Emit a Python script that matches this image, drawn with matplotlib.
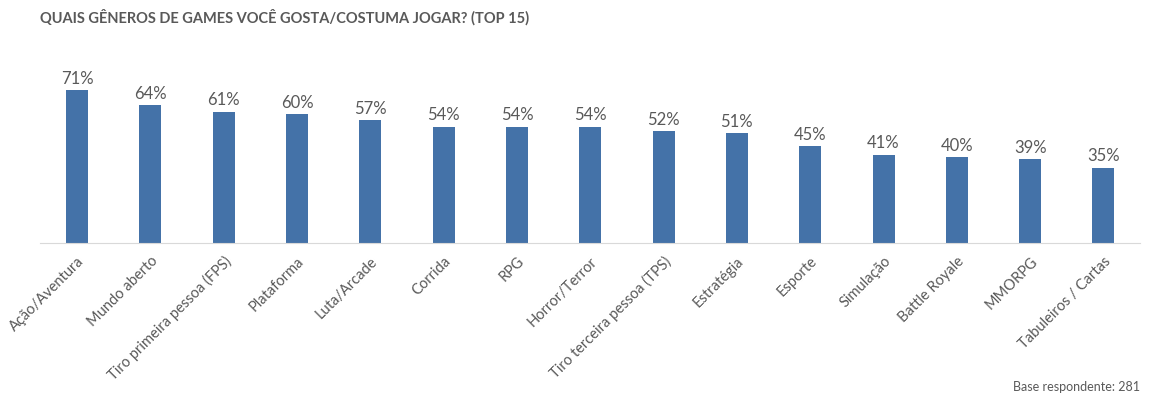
import matplotlib.pyplot as plt

plt.rcParams['font.family'] = ['Lato', 'DejaVu Sans']

# dados
generos = [
    "Ação/Aventura", "Mundo aberto", "Tiro primeira pessoa (FPS)", "Plataforma",
    "Luta/Arcade", "Corrida", "RPG", "Horror/Terror", "Tiro terceira pessoa (TPS)",
    "Estratégia", "Esporte", "Simulação", "Battle Royale", "MMORPG",
    "Tabuleiros / Cartas",
]
percentuais = [71, 64, 61, 60, 57, 54, 54, 54, 52, 51, 45, 41, 40, 39, 35]

cinza = "#595959"
azul = "#4472a8"

fig = plt.figure(figsize=(11.54, 3.94), dpi=100)
ax = fig.add_axes([0.035, 0.383, 0.953, 0.465])

x = range(len(generos))
bars = ax.bar(x, percentuais, width=0.3, color=azul)

for b, v in zip(bars, percentuais):
    ax.text(b.get_x() + b.get_width() / 2, v + 1.5, f"{v}%",
            ha="center", va="bottom", fontsize=12, color=cinza)

ax.set_xlim(-0.5, len(generos) - 0.5)
ax.set_ylim(0, 85)
ax.set_xticks(list(x))
ax.set_xticklabels(generos, rotation=45, ha="right", rotation_mode="anchor",
                   fontsize=10.5, color=cinza)
ax.tick_params(axis="x", length=0, pad=8)
ax.set_yticks([])

for s in ["top", "right", "left"]:
    ax.spines[s].set_visible(False)
ax.spines["bottom"].set_color("#d9d9d9")

fig.text(0.035, 0.955, "QUAIS GÊNEROS DE GAMES VOCÊ GOSTA/COSTUMA JOGAR? (TOP 15)",
         fontsize=10.5, fontweight="bold", color=cinza, ha="left", va="center")
fig.text(0.988, 0.018, "Base respondente: 281", fontsize=9, color=cinza,
         ha="right", va="center")

fig.savefig("out.png", dpi=100)
